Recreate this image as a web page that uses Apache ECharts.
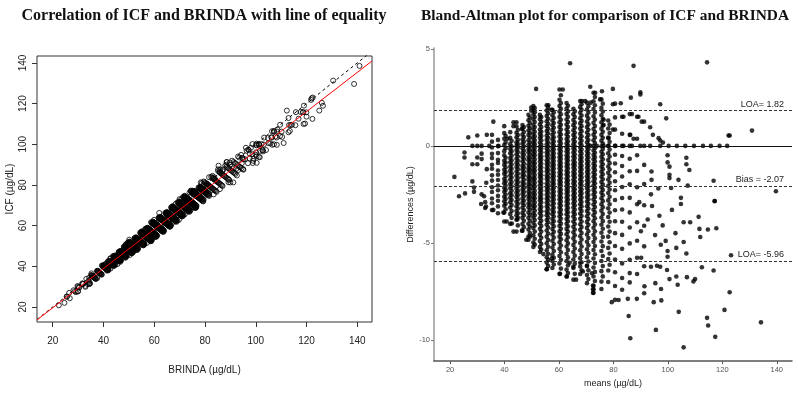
<!DOCTYPE html>
<html>
<head>
<meta charset="utf-8">
<script src="https://cdn.jsdelivr.net/npm/echarts@6/dist/echarts.min.js"></script>
<style>
  html, body { margin: 0; padding: 0; background: #fff; }
  #chart { width: 798px; height: 393px; }
</style>
</head>
<body>
<div id="chart"></div>
<script>
// Les bandes verticales : une moyenne par bande, et les différences lues dessus
const stripeMeans = [35.4, 37.6, 39.9, 42.1, 44.4, 46.6, 48.8, 50.6, 53.0, 55.5, 57.6, 60.2,
                     62.8, 65.3, 67.8, 70.3, 72.7, 75.6, 78.1, 80.6, 83.2, 86.0, 88.7, 91.3];
const stripeDiffs = [
  [0.57, 0.22, -0.08, -0.41, -0.63, -0.97, -1.18, -1.52, -1.79, -2.13, -2.38, -2.71, -2.96, -3.31],
  [0.31, -0.02, -0.37, -0.72, -0.88, -1.27, -1.49, -1.76, -2.04, -2.29, -2.58, -2.83, -3.12, -3.47],
  [1.02, 0.66, 0.37, 0.04, -0.27, -0.49, -0.77, -0.98, -1.23, -1.44, -1.71, -1.92, -2.16, -2.37, -2.62, -2.86, -3.09, -3.44, -3.9],
  [0.71, 0.42, 0.09, -0.16, -0.38, -0.63, -0.84, -1.07, -1.29, -1.52, -1.73, -1.97, -2.18, -2.44, -2.67, -2.91, -3.18, -3.52, -4.02],
  [1.22, 1.01, 0.68, 0.44, 0.19, 0.0, -0.21, -0.43, -0.66, -0.88, -1.09, -1.32, -1.54, -1.77, -1.98, -2.21, -2.42, -2.63, -2.88, -3.11, -3.36, -3.58, -3.81, -4.42],
  [1.08, 0.87, 0.58, 0.33, 0.11, -0.14, -0.36, -0.57, -0.79, -1.02, -1.21, -1.43, -1.62, -1.86, -2.06, -2.27, -2.48, -2.72, -2.94, -3.19, -3.46, -3.71, -4.03, -4.37],
  [1.61, 1.32, 1.04, 0.79, 0.56, 0.29, 0.06, -0.16, -0.34, -0.57, -0.74, -0.96, -1.16, -1.34, -1.57, -1.74, -1.96, -2.14, -2.36, -2.56, -2.74, -2.97, -3.18, -3.44, -3.71, -4.02, -4.31, -4.67, -4.84],
  [2.06, 1.84, 1.62, 1.37, 1.09, 0.86, 0.61, 0.39, 0.18, 0.0, -0.22, -0.41, -0.58, -0.81, -0.99, -1.21, -1.38, -1.62, -1.79, -2.01, -2.19, -2.42, -2.61, -2.79, -3.02, -3.21, -3.47, -3.69, -3.96, -4.24, -4.61, -4.98, -5.21],
  [1.6, 1.38, 1.11, 0.84, 0.62, 0.41, 0.17, -0.04, -0.23, -0.44, -0.63, -0.82, -1.03, -1.22, -1.43, -1.61, -1.82, -2.03, -2.21, -2.42, -2.63, -2.81, -3.04, -3.26, -3.48, -3.73, -3.99, -4.27, -4.58, -4.91, -5.22, -5.47],
  [2.1, 1.83, 1.54, 1.27, 1.02, 0.77, 0.53, 0.31, 0.08, -0.13, -0.33, -0.52, -0.74, -0.93, -1.14, -1.32, -1.53, -1.71, -1.93, -2.12, -2.31, -2.52, -2.72, -2.93, -3.14, -3.37, -3.58, -3.82, -4.07, -4.36, -4.68, -5.02, -5.38, -5.74, -6.02, -6.36],
  [1.86, 1.58, 1.31, 1.06, 0.82, 0.57, 0.34, 0.12, -0.09, -0.28, -0.49, -0.68, -0.89, -1.08, -1.27, -1.47, -1.66, -1.87, -2.06, -2.26, -2.47, -2.66, -2.87, -3.08, -3.31, -3.52, -3.77, -4.01, -4.29, -4.57, -4.89, -5.24, -5.61, -5.94, -6.3],
  [2.91, 2.38, 2.06, 1.77, 1.49, 1.22, 0.97, 0.71, 0.48, 0.24, 0.02, -0.18, -0.39, -0.59, -0.78, -0.98, -1.17, -1.38, -1.57, -1.77, -1.96, -2.16, -2.36, -2.57, -2.77, -2.98, -3.19, -3.42, -3.64, -3.89, -4.13, -4.41, -4.68, -4.97, -5.31, -5.68, -6.06, -6.6],
  [2.21, 1.93, 1.64, 1.36, 1.1, 0.84, 0.59, 0.36, 0.13, -0.07, -0.27, -0.48, -0.67, -0.88, -1.07, -1.28, -1.47, -1.68, -1.87, -2.07, -2.27, -2.47, -2.68, -2.88, -3.09, -3.31, -3.53, -3.77, -4.02, -4.28, -4.56, -4.87, -5.19, -5.56, -5.94, -6.38, -6.74],
  [1.92, 1.63, 1.34, 1.07, 0.81, 0.56, 0.32, 0.09, -0.12, -0.33, -0.53, -0.74, -0.94, -1.13, -1.34, -1.53, -1.74, -1.93, -2.14, -2.33, -2.54, -2.74, -2.96, -3.18, -3.41, -3.64, -3.9, -4.17, -4.46, -4.77, -5.11, -5.47, -5.86, -6.3, -6.9],
  [2.31, 2.0, 1.71, 1.43, 1.16, 0.89, 0.63, 0.38, 0.14, -0.08, -0.29, -0.51, -0.71, -0.92, -1.12, -1.32, -1.53, -1.73, -1.94, -2.14, -2.35, -2.56, -2.78, -3.01, -3.24, -3.49, -3.76, -4.04, -4.33, -4.66, -5.01, -5.38, -5.79, -6.22, -6.61],
  [2.23, 1.88, 1.56, 1.26, 0.97, 0.69, 0.43, 0.18, -0.06, -0.28, -0.49, -0.71, -0.92, -1.13, -1.34, -1.56, -1.77, -1.98, -2.2, -2.42, -2.64, -2.87, -3.11, -3.36, -3.63, -3.92, -4.23, -4.57, -4.94, -5.33, -5.74, -6.18, -6.66, -7.08],
  [2.74, 2.3, 1.9, 1.53, 1.19, 0.87, 0.58, 0.29, 0.0, -0.24, -0.47, -0.69, -0.92, -1.14, -1.37, -1.59, -1.82, -2.04, -2.27, -2.51, -2.76, -3.02, -3.29, -3.58, -3.89, -4.22, -4.58, -4.96, -5.37, -5.81, -6.27, -6.74, -7.21, -7.4, -7.58],
  [2.4, 1.96, 1.58, 1.22, 0.89, 0.57, 0.27, -0.02, -0.3, -0.56, -0.82, -1.07, -1.33, -1.59, -1.86, -2.13, -2.41, -2.7, -3.01, -3.34, -3.69, -4.07, -4.48, -4.93, -5.42, -5.94, -6.46, -7.0, -7.38],
  [1.31, 0.9, 0.43, 0.0, -0.38, -0.73, -1.06, -1.39, -1.73, -2.07, -2.43, -2.81, -3.22, -3.67, -4.16, -4.68, -5.26, -5.84, -6.43, -7.02],
  [2.18, 1.47, 0.84, 0.0, -0.46, -0.91, -1.36, -1.82, -2.29, -2.79, -3.32, -3.89, -4.5, -5.16, -5.86, -6.52, -7.23, -7.94],
  [1.5, 0.63, 0.0, -0.52, -1.04, -1.58, -2.12, -2.69, -3.28, -3.91, -4.59, -5.31, -6.06, -6.81, -7.42],
  [1.64, 0.57, 0.0, -0.66, -1.31, -1.98, -2.68, -3.43, -4.21, -5.03, -5.87, -6.56, -7.04],
  [1.5, 0.37, -0.48, -1.29, -2.13, -3.01, -3.94, -4.89, -5.77, -6.61],
  [1.25, 0.0, -0.98, -1.97, -3.06, -4.12, -5.18, -6.21]
];

// Deuxième lecture des bandes denses, légèrement décalées à droite
const stripeMeansB = [40.4, 42.6, 44.9, 47.1, 49.3, 51.1, 53.5, 56.0, 58.1, 60.7, 63.3, 65.8,
                      68.3, 70.8, 73.2, 76.1, 78.6];
const stripeDiffsB = [
  [0.52, 0.18, -0.12, -0.61, -0.86, -1.11, -1.35, -1.58, -1.83, -2.05, -2.27, -2.51, -2.74, -2.99, -3.27],
  [0.26, -0.03, -0.27, -0.51, -0.74, -0.96, -1.18, -1.41, -1.63, -1.86, -2.08, -2.31, -2.55, -2.79, -3.05, -3.36, -3.71],
  [0.83, 0.56, 0.31, 0.09, -0.1, -0.32, -0.55, -0.77, -0.98, -1.2, -1.43, -1.66, -1.87, -2.09, -2.32, -2.53, -2.76, -2.99, -3.23, -3.47, -3.69, -4.1],
  [0.97, 0.72, 0.46, 0.22, -0.02, -0.25, -0.46, -0.68, -0.91, -1.11, -1.32, -1.52, -1.74, -1.96, -2.17, -2.38, -2.6, -2.83, -3.06, -3.32, -3.58, -3.86, -4.19],
  [1.46, 1.18, 0.92, 0.67, 0.43, 0.17, -0.05, -0.25, -0.46, -0.66, -0.85, -1.06, -1.25, -1.46, -1.66, -1.85, -2.05, -2.25, -2.46, -2.65, -2.86, -3.07, -3.31, -3.57, -3.86, -4.16, -4.49],
  [1.95, 1.73, 1.49, 1.23, 0.97, 0.73, 0.5, 0.29, 0.09, -0.11, -0.31, -0.5, -0.7, -0.9, -1.1, -1.29, -1.5, -1.7, -1.9, -2.1, -2.31, -2.51, -2.7, -2.91, -3.11, -3.34, -3.58, -3.82, -4.1, -4.42, -4.79, -5.09],
  [1.49, 1.24, 0.97, 0.73, 0.51, 0.29, 0.06, -0.13, -0.33, -0.53, -0.72, -0.92, -1.12, -1.32, -1.52, -1.71, -1.92, -2.12, -2.31, -2.52, -2.72, -2.92, -3.15, -3.37, -3.6, -3.86, -4.13, -4.42, -4.74, -5.06, -5.35],
  [1.96, 1.68, 1.4, 1.14, 0.89, 0.65, 0.42, 0.19, -0.02, -0.23, -0.42, -0.63, -0.83, -1.03, -1.23, -1.42, -1.62, -1.81, -2.02, -2.21, -2.41, -2.62, -2.82, -3.03, -3.25, -3.47, -3.7, -3.94, -4.21, -4.52, -4.85, -5.2, -5.56, -5.88, -6.19],
  [1.72, 1.44, 1.18, 0.94, 0.69, 0.45, 0.23, 0.02, -0.18, -0.38, -0.58, -0.78, -0.98, -1.17, -1.37, -1.56, -1.76, -1.96, -2.16, -2.36, -2.56, -2.76, -2.97, -3.19, -3.41, -3.64, -3.89, -4.15, -4.43, -4.73, -5.06, -5.42, -5.77, -6.12],
  [2.61, 2.21, 1.91, 1.63, 1.35, 1.09, 0.84, 0.59, 0.36, 0.13, -0.08, -0.28, -0.49, -0.68, -0.88, -1.07, -1.27, -1.47, -1.67, -1.86, -2.06, -2.26, -2.46, -2.67, -2.87, -3.08, -3.3, -3.53, -3.76, -4.01, -4.27, -4.54, -4.82, -5.14, -5.49, -5.87, -6.33],
  [2.07, 1.78, 1.5, 1.23, 0.97, 0.71, 0.47, 0.24, 0.03, -0.17, -0.37, -0.57, -0.77, -0.97, -1.17, -1.37, -1.57, -1.77, -1.97, -2.17, -2.37, -2.57, -2.78, -2.98, -3.2, -3.42, -3.65, -3.89, -4.15, -4.42, -4.71, -5.03, -5.37, -5.75, -6.16, -6.56],
  [1.78, 1.49, 1.2, 0.94, 0.68, 0.44, 0.21, -0.02, -0.22, -0.43, -0.63, -0.84, -1.03, -1.23, -1.44, -1.63, -1.84, -2.03, -2.24, -2.44, -2.65, -2.85, -3.07, -3.29, -3.52, -3.77, -4.03, -4.31, -4.61, -4.94, -5.29, -5.66, -6.08, -6.6],
  [2.15, 1.86, 1.57, 1.29, 1.02, 0.76, 0.5, 0.26, 0.03, -0.19, -0.4, -0.61, -0.81, -1.02, -1.22, -1.43, -1.63, -1.84, -2.04, -2.25, -2.45, -2.67, -2.89, -3.12, -3.36, -3.62, -3.9, -4.18, -4.49, -4.83, -5.19, -5.58, -6.0, -6.42],
  [2.05, 1.72, 1.41, 1.11, 0.83, 0.56, 0.3, 0.06, -0.17, -0.39, -0.6, -0.82, -1.03, -1.24, -1.45, -1.66, -1.87, -2.09, -2.31, -2.53, -2.75, -2.99, -3.23, -3.49, -3.77, -4.07, -4.4, -4.75, -5.13, -5.53, -5.96, -6.42, -6.87],
  [2.52, 2.1, 1.72, 1.36, 1.03, 0.72, 0.43, 0.15, -0.12, -0.35, -0.58, -0.8, -1.03, -1.25, -1.48, -1.7, -1.93, -2.15, -2.39, -2.63, -2.89, -3.15, -3.43, -3.73, -4.05, -4.4, -4.77, -5.16, -5.59, -6.04, -6.5, -6.97],
  [2.18, 1.77, 1.4, 1.05, 0.73, 0.42, 0.12, -0.16, -0.43, -0.69, -0.95, -1.2, -1.46, -1.72, -1.99, -2.27, -2.55, -2.85, -3.17, -3.51, -3.88, -4.27, -4.7, -5.17, -5.68, -6.2, -6.73],
  [1.1, 0.66, 0.21, -0.19, -0.55, -0.89, -1.22, -1.56, -1.9, -2.25, -2.62, -3.01, -3.44, -3.91, -4.42, -4.97, -5.55, -6.13]
];

// Points isolés, hors des bandes : [moyenne, différence]
const looseObs = [
  [21.6, -1.6], [23.3, -2.6], [25.5, -2.45], [25.3, -0.34], [25.3, -0.6], [26.7, 0.44],
  [28.2, 0], [28.2, -0.95], [28.2, -1.83], [28.8, -2.15], [28.8, -2.37], [30, 0.54],
  [30, 0], [30, -0.6], [30, -0.95], [31.6, 0], [31.6, -0.4], [31.6, -0.68], [31.6, -2.5],
  [32.5, -2.6], [33.5, 0.57], [35.9, 1.25], [31.4, -3.0], [33.2, -3.13], [33.5, -1.2],
  [33.3, -1.9], [32.9, -2.9], [32.9, -3.2], [34.4, 0], [37.8, 0],
  [35.9, -3.3], [39.6, -3.44], [40.8, -3.9], [42.7, -4.0], [43.3, -4.42], [44.7, -3.8],
  [46.4, -4.37], [48, -4.84], [49.4, -4.67],
  [43.3, 1.22], [43.3, 1.02], [46.4, 0.88], [41.1, 0.37], [64.1, 4.26], [51.6, 2.94],
  [61.4, 2.91], [71.5, 3.05], [73.3, 2.74], [68.4, 2.31], [69.6, 2.31], [71.7, 2.23],
  [56.1, 2.1], [57.3, 1.86], [49.8, 1.98], [49.8, 1.81],
  [55.5, -6.36], [60.4, -6.6], [62.9, -6.74], [66.3, -6.9], [72.5, -7.2], [72.5, -7.4],
  [72.5, -7.58], [54.3, -5.58], [57.4, -5.8], [63.9, -6.03], [65.3, -6.23], [67.8, -6.03],
  [68.8, -6.48], [70.3, -6.19], [72.1, -6.57],
  [87.4, 4.13], [114.4, 4.31], [89.9, 2.77], [89.9, 2.65], [86.4, 2.49], [79.8, 2.94],
  [75.8, 2.82], [97.2, 2.15], [82.7, 2.2], [79.8, 2.15], [75.1, 2.4], [99.4, 1.42],
  [86.8, 1.64], [83.7, 1.5], [89.2, 1.5], [90.4, 1.25], [93.5, 0.96], [94.5, 0.57],
  [96.6, 0.4], [97.2, 0.28], [98.2, 0.17], [86.2, 0.57], [87.4, 0.37], [79.8, 0.84],
  [76.4, 1.35], [76.4, 1.08], [78.2, 0.4], [130.9, 0.79], [122.3, 0.54], [122.7, 0.54],
  [71.5, 0], [73.9, 0], [76.4, 0], [78.2, 0], [80.7, 0], [83.7, 0], [86.8, 0], [89.9, 0],
  [93.5, 0], [97.2, 0], [100.3, 0], [103.3, 0], [106.4, 0], [109.6, 0], [112.9, 0],
  [115.8, 0], [119, 0], [121.8, 0],
  [99.9, -0.48], [99.9, -0.85], [100.6, -1.07], [100.6, -1.49], [100.6, -1.66],
  [106.8, -0.61], [106.8, -0.95], [107.9, -1.24], [103.9, -1.75], [107.3, -2.05],
  [116.8, -1.8], [101.2, -2.17], [117.2, -2.84], [139.7, -2.34], [104.8, -2.68],
  [104.8, -3.0], [94, -1.32], [94, -1.75],
  [93.8, -2.5], [94.2, -3.1], [96.5, -2.2], [96.9, -3.6], [98.1, -4.1], [92.6, -3.8],
  [95.3, -4.6], [99.2, -4.9], [97.4, -5.1], [101.5, -3.3], [102.8, -4.5], [89.5, -2.9],
  [90.1, -4.4],
  [85.6, -8.77], [86.2, -9.92], [95.6, -9.49], [105.8, -10.39], [104, -8.56], [114.4, -8.87],
  [114.8, -9.26], [117.4, -9.85], [120.8, -8.46], [122.7, -7.55], [134.2, -9.1], [123.2, -5.64],
  [116.8, -6.43], [112.5, -6.26], [110, -6.87], [109.4, -6.99], [107, -6.77], [103.6, -7.16],
  [103.1, -6.74], [100.6, -6.87], [99.7, -6.4], [97.5, -7.38], [97.6, -7.97], [94.8, -8.06],
  [95.4, -7.08], [88.6, -7.89], [85.3, -7.89], [81.9, -7.95], [79.4, -8.06], [91.3, -7.6],
  [91.4, -7.24], [96, -6.18], [97.2, -6.23], [93.8, -6.23], [99.9, -5.42], [99.9, -5.72],
  [103.1, -5.26], [105.8, -4.96], [106.8, -5.55], [105.8, -3.94], [108.2, -3.94],
  [111.3, -3.66], [111.6, -4.28], [111.9, -4.7], [114.7, -4.31], [117.8, -4.25],
  [117.2, -2.85], [90.2, -5.77]
];

// Statistiques affichées sur le Bland-Altman
const loaUpper = 1.82;
const bias = -2.07;
const loaLower = -5.96;

// Graduations
const corrTicks = [20, 40, 60, 80, 100, 120, 140];
const baMeanTicks = [20, 40, 60, 80, 100, 120, 140];
const baDiffTicks = [-10, -5, 0, 5];

// --- Construction des séries ---

const obs = [];
stripeMeans.forEach((m, i) => stripeDiffs[i].forEach(d => obs.push([m, d])));
stripeMeansB.forEach((m, i) => stripeDiffsB[i].forEach(d => obs.push([m, d])));
looseObs.forEach(p => obs.push(p));

// BRINDA = moyenne - diff/2, ICF = moyenne + diff/2
const baPoints = obs.map(([m, d]) => [m, d]);
const corrPoints = obs.map(([m, d]) => [m - d / 2, m + d / 2]);

// Droite de régression ICF ~ BRINDA (moindres carrés)
function fitLine(points) {
    const n = points.length;
    let sx = 0, sy = 0, sxx = 0, sxy = 0;
    points.forEach(([x, y]) => { sx += x; sy += y; sxx += x * x; sxy += x * y; });
    const slope = (n * sxy - sx * sy) / (n * sxx - sx * sx);
    return { slope, intercept: (sy - slope * sx) / n };
}
const fit = fitLine(corrPoints);

const xMinCorr = 13.8, xMaxCorr = 145.8;
const yMinCorr = 12.6, yMaxCorr = 143.4;
const regLine = [xMinCorr, xMaxCorr].map(x => [x, fit.intercept + fit.slope * x]);
const equalityLine = [[xMinCorr, xMinCorr], [xMaxCorr, xMaxCorr]];

const sans = 'Liberation Sans';
const serif = 'Liberation Serif';

function refLine(value, solid, text) {
    return {
        yAxis: value,
        lineStyle: solid
            ? { type: 'solid', color: '#111', width: 1 }
            : { type: [3, 2], color: '#333', width: 1 },
        label: text
            ? {
                show: true, position: 'insideEndTop', formatter: text,
                fontFamily: sans, fontSize: 9, color: '#222', distance: [8, 2]
            }
            : { show: false }
    };
}

const option = {
    animation: false,
    title: [
        {
            text: 'Correlation of ICF and BRINDA with line of equality',
            left: 199, top: 3, textAlign: 'center',
            textStyle: { fontFamily: serif, fontWeight: 'bold', fontSize: 16, color: '#111' }
        },
        {
            text: 'Bland-Altman plot for comparison of ICF and BRINDA',
            left: 600, top: 4, textAlign: 'center',
            textStyle: { fontFamily: serif, fontWeight: 'bold', fontSize: 15.4, color: '#111' }
        }
    ],
    grid: [
        { left: 37, top: 56, width: 335, height: 266, show: true, borderColor: '#333', borderWidth: 1, backgroundColor: 'transparent' },
        { left: 434, top: 48, width: 358, height: 318 }
    ],
    xAxis: [
        {
            gridIndex: 0, type: 'value', min: xMinCorr, max: xMaxCorr,
            name: 'BRINDA (µg/dL)', nameLocation: 'middle', nameGap: 43,
            nameTextStyle: { fontFamily: sans, fontSize: 10, color: '#222' },
            axisLine: { show: false },
            axisTick: { show: true, length: 5, customValues: corrTicks, lineStyle: { color: '#333' } },
            axisLabel: { customValues: corrTicks, fontFamily: sans, fontSize: 10, color: '#222', margin: 14 },
            splitLine: { show: false }
        },
        {
            gridIndex: 1, type: 'value', min: 14.1, max: 145.6,
            name: 'means (µg/dL)', nameLocation: 'middle', nameGap: 13,
            nameTextStyle: { fontFamily: sans, fontSize: 9, color: '#222' },
            axisLine: { show: true, onZero: false, lineStyle: { color: '#555', width: 1.5 } },
            axisTick: { show: true, length: 3, customValues: baMeanTicks, lineStyle: { color: '#555' } },
            axisLabel: { customValues: baMeanTicks, fontFamily: sans, fontSize: 7.5, color: '#555', margin: 5 },
            splitLine: { show: false }
        }
    ],
    yAxis: [
        {
            gridIndex: 0, type: 'value', min: yMinCorr, max: yMaxCorr,
            name: 'ICF (µg/dL)', nameLocation: 'middle', nameGap: 22,
            nameTextStyle: { fontFamily: sans, fontSize: 10, color: '#222' },
            axisLine: { show: false },
            axisTick: { show: true, length: 5, customValues: corrTicks, lineStyle: { color: '#333' } },
            axisLabel: { customValues: corrTicks, rotate: 90, fontFamily: sans, fontSize: 10, color: '#222', margin: 9 },
            splitLine: { show: false }
        },
        {
            gridIndex: 1, type: 'value', min: -11.1, max: 5.05,
            name: 'Differences (µg/dL)', nameLocation: 'middle', nameGap: 15,
            nameTextStyle: { fontFamily: sans, fontSize: 9, color: '#222' },
            axisLine: { show: true, onZero: false, lineStyle: { color: '#9a9a9a', width: 1.5 } },
            axisTick: { show: true, length: 3, customValues: baDiffTicks, lineStyle: { color: '#777' } },
            axisLabel: { customValues: baDiffTicks, fontFamily: sans, fontSize: 7.5, color: '#555', margin: 4 },
            splitLine: { show: false }
        }
    ],
    series: [
        {
            type: 'scatter', xAxisIndex: 0, yAxisIndex: 0,
            data: corrPoints, symbol: 'circle', symbolSize: 5, large: false,
            itemStyle: { color: 'rgba(0,0,0,0)', borderColor: '#000', borderWidth: 1 },
            z: 2
        },
        {
            type: 'line', xAxisIndex: 0, yAxisIndex: 0,
            data: equalityLine, symbol: 'none', clip: true,
            lineStyle: { color: '#000', width: 1, type: [3, 3] },
            z: 3
        },
        {
            type: 'line', xAxisIndex: 0, yAxisIndex: 0,
            data: regLine, symbol: 'none', clip: true,
            lineStyle: { color: '#ff0000', width: 1 },
            z: 4
        },
        {
            type: 'scatter', xAxisIndex: 1, yAxisIndex: 1,
            data: baPoints, symbol: 'circle', symbolSize: 4.6, large: false,
            itemStyle: { color: '#000' },
            markLine: {
                silent: true, symbol: 'none', animation: false,
                data: [
                    refLine(0, true, null),
                    refLine(loaUpper, false, 'LOA= ' + loaUpper.toFixed(2)),
                    refLine(bias, false, 'Bias = ' + bias.toFixed(2)),
                    refLine(loaLower, false, 'LOA= ' + loaLower.toFixed(2))
                ]
            }
        }
    ]
};

const chart = echarts.init(document.getElementById('chart'));
chart.setOption(option);
</script>
</body>
</html>
